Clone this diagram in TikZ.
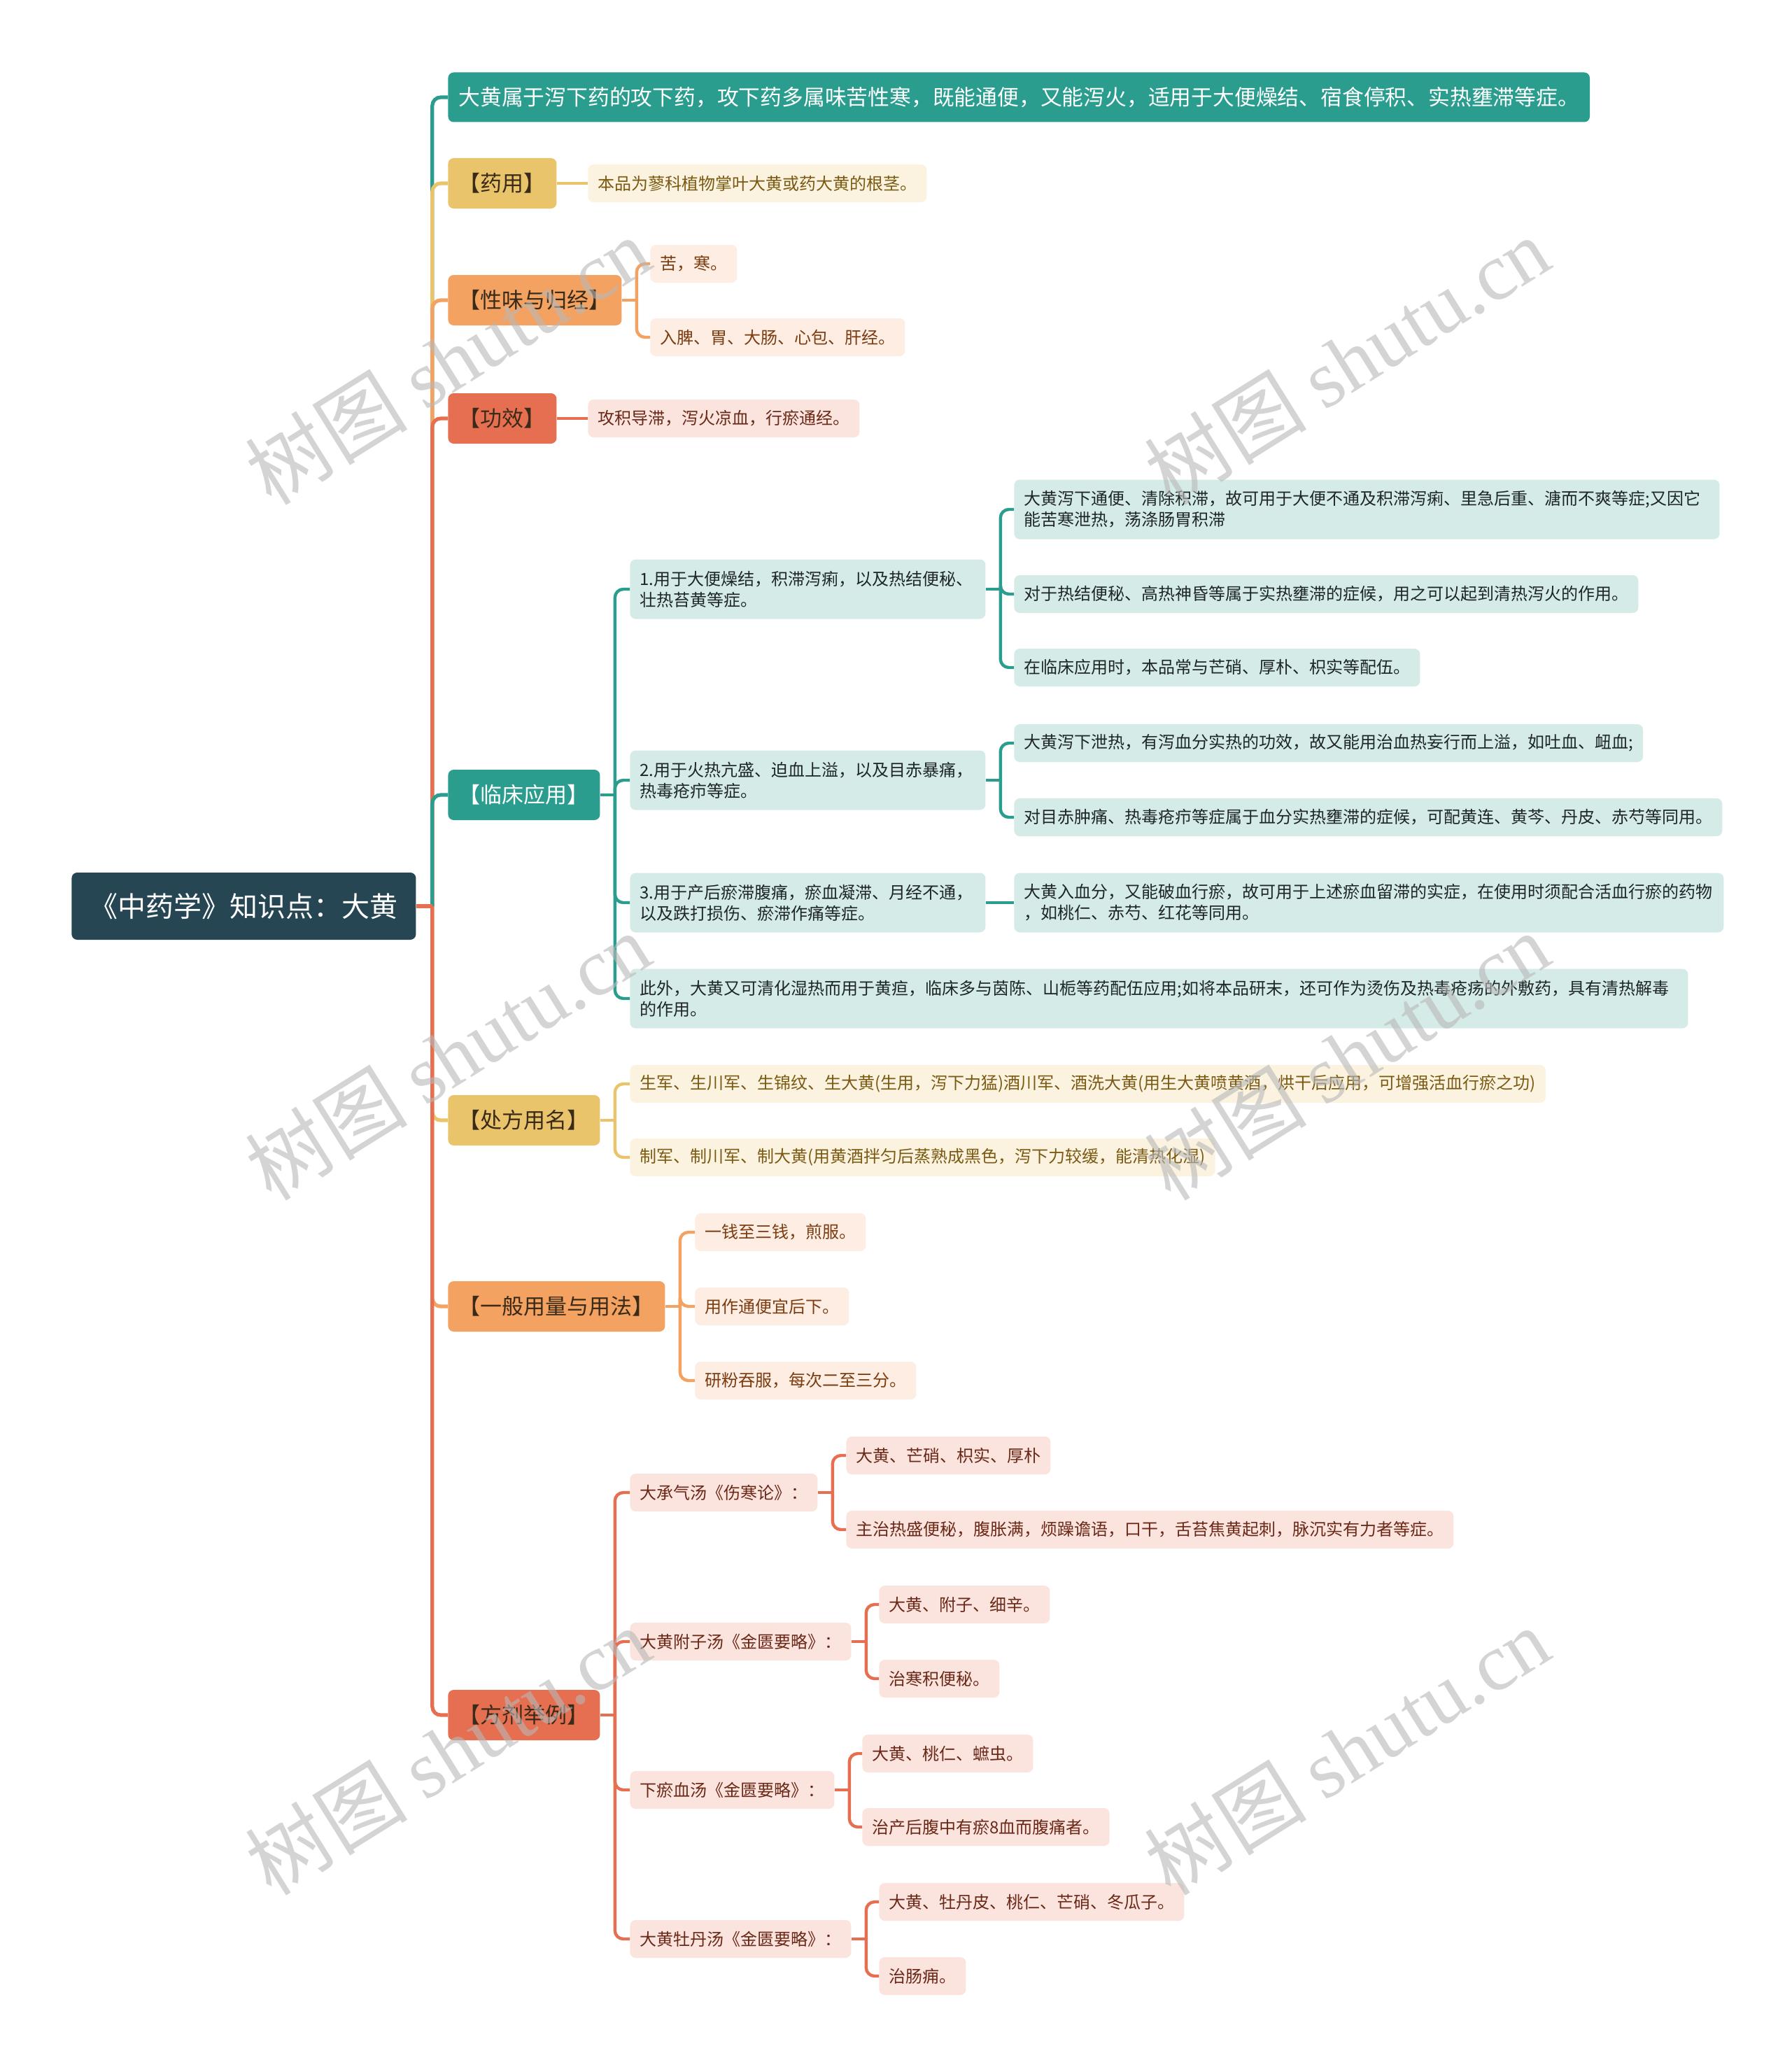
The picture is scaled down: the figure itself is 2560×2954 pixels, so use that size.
\documentclass[tikz,border=0pt]{standalone}
\usepackage{fontspec}
\setmainfont{Noto Sans CJK SC}
\newfontfamily\wmserif{Liberation Serif}
\usetikzlibrary{calc}
\definecolor{rootbg}{HTML}{264653}
\definecolor{cteal}{HTML}{2A9D8F}
\definecolor{cyel}{HTML}{E9C46A}
\definecolor{corg}{HTML}{F4A261}
\definecolor{cred}{HTML}{E76F51}
\definecolor{ltteal}{HTML}{D5EBE8}
\definecolor{ltyel}{HTML}{FBF3E0}
\definecolor{ltorg}{HTML}{FDEDE2}
\definecolor{ltred}{HTML}{FBE4DD}
\definecolor{txyel}{HTML}{7A5A12}
\definecolor{txorg}{HTML}{7A3C10}
\definecolor{txred}{HTML}{6A2818}
\definecolor{txdark}{HTML}{3A2A18}
\definecolor{txteal}{HTML}{1E2626}
\definecolor{wmgray}{HTML}{B8B8B8}
\tikzset{
  box/.style={rounded corners=4pt, inner ysep=2pt, anchor=west},
  rootbox/.style={box, fill=rootbg, text=white, font=\fontsize{20}{24}\selectfont, inner xsep=13pt, minimum height=48pt},
  topbox/.style={box, fill=cteal, text=white, font=\fontsize{15.4}{19}\selectfont, inner xsep=7.5pt, minimum height=35.5pt},
  lone/.style={box, font=\fontsize{15.5}{19}\selectfont, inner xsep=7.75pt, minimum height=36pt, text=txdark},
  leaf/.style={box, font=\fontsize{12}{15}\selectfont, inner xsep=7pt, minimum height=27pt, align=left},
  two/.style={minimum height=42.5pt},
  tl/.style={leaf, fill=ltteal, text=txteal},
  yl/.style={leaf, fill=ltyel, text=txyel},
  ol/.style={leaf, fill=ltorg, text=txorg},
  rl/.style={leaf, fill=ltred, text=txred},
  lk/.style={line width=2.6pt, rounded corners=6pt},
  sk/.style={line width=2.2pt, rounded corners=6pt},
  wmark/.style={rotate=32, text=wmgray, opacity=0.6, font=\fontsize{58}{58}\selectfont},
}
\begin{document}
\begin{tikzpicture}[x=0.5pt,y=-0.5pt]
\useasboundingbox (0,0) rectangle (2560,2954);
\fill[white] (0,0) rectangle (2560,2954);

% ---------- nodes ----------
\node[rootbox] (root) at (102,1295) {《中药学》知识点：大黄};

\node[topbox] (top) at (640,139) {大黄属于泻下药的攻下药，攻下药多属味苦性寒，既能通便，又能泻火，适用于大便燥结、宿食停积、实热壅滞等症。};
\node[lone, fill=cyel] (yy) at (640,262) {【药用】};
\node[lone, fill=corg] (xw) at (640,429) {【性味与归经】};
\node[lone, fill=cred] (gx) at (640,598) {【功效】};
\node[lone, fill=cteal, text=white] (lc) at (640,1136) {【临床应用】};
\node[lone, fill=cyel] (cf) at (640,1601) {【处方用名】};
\node[lone, fill=corg] (yf) at (640,1867) {【一般用量与用法】};
\node[lone, fill=cred] (fj) at (640,2451) {【方剂举例】};

\node[yl] (yyl) at (840,262) {本品为蓼科植物掌叶大黄或药大黄的根茎。};
\node[ol] (xw1) at (929,377) {苦，寒。};
\node[ol] (xw2) at (929,482) {入脾、胃、大肠、心包、肝经。};
\node[rl] (gxl) at (840,598) {攻积导滞，泻火凉血，行瘀通经。};

\node[tl, two, text width=240pt] (L1) at (900,842) {1.用于大便燥结，积滞泻痢，以及热结便秘、\\壮热苔黄等症。};
\node[tl, two, text width=240pt] (L2) at (900,1115) {2.用于火热亢盛、迫血上溢，以及目赤暴痛，\\热毒疮疖等症。};
\node[tl, two, text width=240pt] (L3) at (900,1290) {3.用于产后瘀滞腹痛，瘀血凝滞、月经不通，\\以及跌打损伤、瘀滞作痛等症。};
\node[tl, two, text width=742pt] (L4) at (900,1427) {此外，大黄又可清化湿热而用于黄疸，临床多与茵陈、山栀等药配伍应用;如将本品研末，还可作为烫伤及热毒疮疡的外敷药，具有清热解毒\\的作用。};

\node[tl, two, text width=490pt] (C1a) at (1449,728) {大黄泻下通便、清除积滞，故可用于大便不通及积滞泻痢、里急后重、溏而不爽等症;又因它\\能苦寒泄热，荡涤肠胃积滞};
\node[tl] (C1b) at (1449,849) {对于热结便秘、高热神昏等属于实热壅滞的症候，用之可以起到清热泻火的作用。};
\node[tl] (C1c) at (1449,954) {在临床应用时，本品常与芒硝、厚朴、枳实等配伍。};
\node[tl] (C2a) at (1449,1062) {大黄泻下泄热，有泻血分实热的功效，故又能用治血热妄行而上溢，如吐血、衄血;};
\node[tl] (C2b) at (1449,1168) {对目赤肿痛、热毒疮疖等症属于血分实热壅滞的症候，可配黄连、黄芩、丹皮、赤芍等同用。};
\node[tl, two, text width=493pt] (C3a) at (1449,1290) {大黄入血分，又能破血行瘀，故可用于上述瘀血留滞的实症，在使用时须配合活血行瘀的药物\\，如桃仁、赤芍、红花等同用。};

\node[yl] (P1) at (900,1549) {生军、生川军、生锦纹、生大黄(生用，泻下力猛)酒川军、酒洗大黄(用生大黄喷黄酒，烘干后应用，可增强活血行瘀之功)};
\node[yl] (P2) at (900,1654) {制军、制川军、制大黄(用黄酒拌匀后蒸熟成黑色，泻下力较缓，能清热化湿)};

\node[ol] (U1) at (993,1761) {一钱至三钱，煎服。};
\node[ol] (U2) at (993,1867) {用作通便宜后下。};
\node[ol] (U3) at (993,1973) {研粉吞服，每次二至三分。};

\node[rl] (F1) at (900,2133) {大承气汤《伤寒论》：};
\node[rl] (F1a) at (1209,2080) {大黄、芒硝、枳实、厚朴};
\node[rl] (F1b) at (1209,2186) {主治热盛便秘，腹胀满，烦躁谵语，口干，舌苔焦黄起刺，脉沉实有力者等症。};
\node[rl] (F2) at (900,2346) {大黄附子汤《金匮要略》：};
\node[rl] (F2a) at (1256,2293) {大黄、附子、细辛。};
\node[rl] (F2b) at (1256,2399) {治寒积便秘。};
\node[rl] (F3) at (900,2558) {下瘀血汤《金匮要略》：};
\node[rl] (F3a) at (1232,2506) {大黄、桃仁、蟅虫。};
\node[rl] (F3b) at (1232,2611) {治产后腹中有瘀8血而腹痛者。};
\node[rl] (F4) at (900,2771) {大黄牡丹汤《金匮要略》：};
\node[rl] (F4a) at (1256,2718) {大黄、牡丹皮、桃仁、芒硝、冬瓜子。};
\node[rl] (F4b) at (1256,2824) {治肠痈。};

% ---------- connectors ----------
\path (root.east) ++(23,0) coordinate (rj);
\draw[lk, cteal] (rj) |- (top.west);
\draw[lk, cyel] (rj) |- (yy.west);
\draw[lk, corg] (rj) |- (xw.west);
\draw[lk, cred] (rj) |- (gx.west);
\draw[lk, cteal] (rj) |- (lc.west);
\draw[lk, cyel] (rj) |- (cf.west);
\draw[lk, corg] (rj) |- (yf.west);
\draw[lk, cred] (rj) |- (fj.west);
\draw[lk, cred] (root.east) -- (rj);

\draw[sk, cyel] (yy.east) -- (yyl.west);

\path (xw.east) ++(21,0) coordinate (xwj);
\draw[sk, corg] (xwj) |- (xw1.west);
\draw[sk, corg] (xwj) |- (xw2.west);
\draw[sk, corg] (xw.east) -- (xwj);

\draw[sk, cred] (gx.east) -- (gxl.west);

\path (lc.east) ++(21,0) coordinate (lcj);
\draw[sk, cteal] (lcj) |- (L1.west);
\draw[sk, cteal] (lcj) |- (L2.west);
\draw[sk, cteal] (lcj) |- (L3.west);
\draw[sk, cteal] (lcj) |- (L4.west);
\draw[sk, cteal] (lc.east) -- (lcj);

\path (L1.east) ++(21,0) coordinate (l1j);
\draw[sk, cteal] (l1j) |- (C1a.west);
\draw[sk, cteal] (l1j) |- (C1b.west);
\draw[sk, cteal] (l1j) |- (C1c.west);
\draw[sk, cteal] (L1.east) -- (l1j);

\path (L2.east) ++(21,0) coordinate (l2j);
\draw[sk, cteal] (l2j) |- (C2a.west);
\draw[sk, cteal] (l2j) |- (C2b.west);
\draw[sk, cteal] (L2.east) -- (l2j);

\draw[sk, cteal] (L3.east) -- (C3a.west);

\path (cf.east) ++(21,0) coordinate (cfj);
\draw[sk, cyel] (cfj) |- (P1.west);
\draw[sk, cyel] (cfj) |- (P2.west);
\draw[sk, cyel] (cf.east) -- (cfj);

\path (yf.east) ++(21,0) coordinate (yfj);
\draw[sk, corg] (yfj) |- (U1.west);
\draw[sk, corg] (yfj) |- (U2.west);
\draw[sk, corg] (yfj) |- (U3.west);
\draw[sk, corg] (yf.east) -- (yfj);

\path (fj.east) ++(21,0) coordinate (fjj);
\draw[sk, cred] (fjj) |- (F1.west);
\draw[sk, cred] (fjj) |- (F2.west);
\draw[sk, cred] (fjj) |- (F3.west);
\draw[sk, cred] (fjj) |- (F4.west);
\draw[sk, cred] (fj.east) -- (fjj);

\foreach \p in {F1,F2,F3,F4}{
  \path (\p.east) ++(21,0) coordinate (\p j);
  \draw[sk, cred] (\p j) |- (\p a.west);
  \draw[sk, cred] (\p j) |- (\p b.west);
  \draw[sk, cred] (\p.east) -- (\p j);
}

% ---------- watermarks ----------
\foreach \wx/\wy [count=\i] in {640/515, 1925/515, 640/1509, 1925/1509, 640/2502, 1925/2502}
  \node[wmark] (wm\i) at (\wx,\wy) {树图 {\wmserif shutu.cn}};
\end{tikzpicture}
\end{document}
